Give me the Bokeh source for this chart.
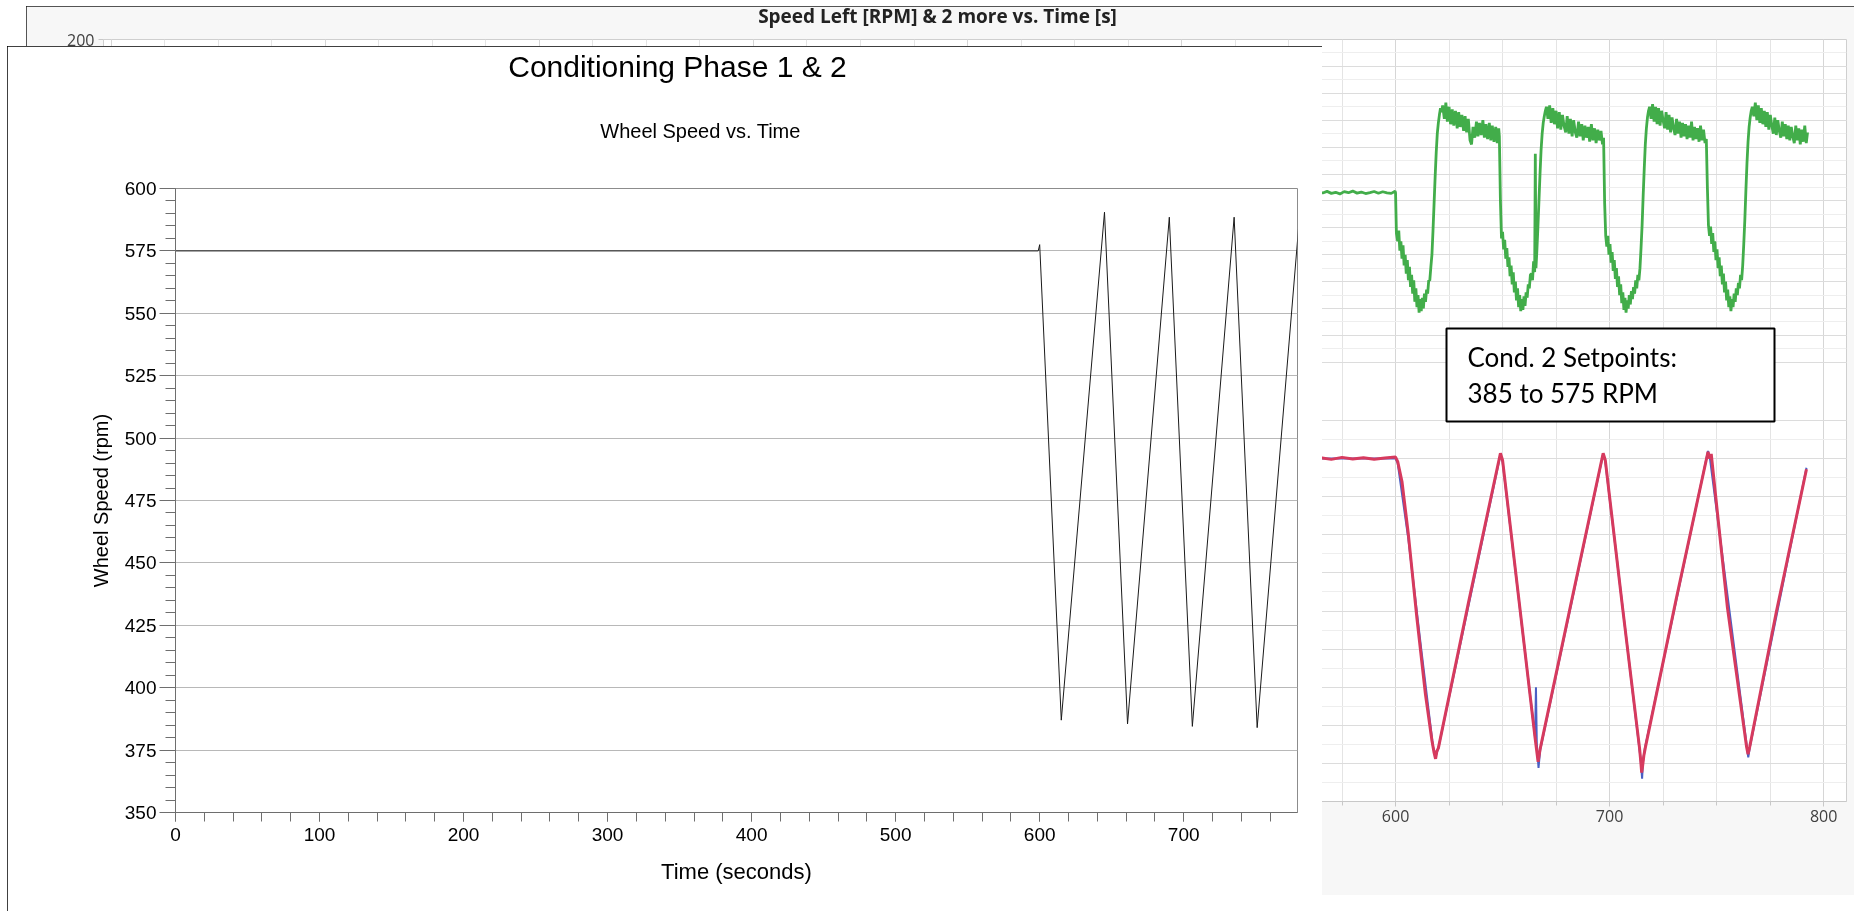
from bokeh.plotting import figure
from bokeh.models import (Range1d, LinearAxis, SingleIntervalTicker, FixedTicker,
                          Grid, Label, BoxAnnotation)
from bokeh.embed import file_html
from bokeh.resources import INLINE

# ---------------- foreground chart data ----------------
fg_title = "Conditioning Phase 1 & 2"
fg_subtitle = "Wheel Speed vs. Time"
fg_xlabel = "Time (seconds)"
fg_ylabel = "Wheel Speed (rpm)"
fg_time = [0, 599, 600, 615, 645, 661, 690, 706, 735, 751, 780]
fg_speed = [575, 575, 577.5, 387, 590.5, 385.5, 588.5, 384.5, 588.5, 384, 586]

# ---------------- background chart data ----------------
bg_title = "Speed Left [RPM] & 2 more vs. Time [s]"
bg_xticks = [600, 700, 800]
bg_xminor = [550, 575, 625, 650, 675, 725, 750, 775]
bg_yticks = [200]
box_lines = ["Cond. 2 Setpoints:", "385 to 575 RPM"]

bg_red_t = [0, 565, 570, 575, 580, 585, 590, 595, 600, 601, 603, 606, 610, 614, 617, 618, 618.7,
            619.3, 620, 634, 649, 650, 658, 665, 666.6, 667.5, 682, 697, 698, 706, 714, 714.6,
            715, 715.4, 716, 716.8, 731, 746, 746.8, 747.5, 755, 764, 764.7, 765.5, 778, 792]
bg_red_v = [575, 575.5, 574.5, 575.8, 574.8, 575.6, 574.6, 575.4, 576, 573, 560, 525, 470, 420, 390,
            382, 378, 383, 385, 480, 578.5, 574, 478, 394, 376, 384, 480, 578.5, 574, 478, 385, 376,
            369, 373, 380, 386, 482, 579.5, 575, 578, 478, 386, 381, 386, 475, 568]

bg_blue_t = [0, 600, 601, 606, 612, 617.5, 618.8, 620, 649, 650, 665.2, 665.6, 666, 666.8, 667.6,
             697, 698, 714.5, 715.2, 715.6, 716.5, 746, 747, 764.8, 765.6, 792]
bg_blue_v = [575, 575, 572, 522, 450, 386, 380, 385, 577.5, 573, 392, 425, 388, 372, 384,
             578, 573, 378, 365, 376, 385, 580, 574, 379, 386, 569]

g_t0 = [0, 560, 562, 564, 566, 568, 570, 572, 574, 576, 578, 580, 582, 584, 586, 588, 590, 592,
        594, 596, 598, 599.8]
g_v0 = [86, 86.3, 85.4, 86.8, 85.9, 87.1, 85.6, 86.4, 85.2, 86.9, 86.1, 87.3, 85.8, 86.6, 85.5,
        86.2, 87.0, 85.7, 86.8, 86.0, 85.6, 87.2]
g_t1 = [600.0, 600.4, 601.0, 601.5, 602.0, 602.5, 603.0, 603.5, 604.0, 604.5, 605.0, 605.5, 606.0,
        606.5, 607.0, 607.5, 608.0, 608.5, 609.0, 609.5, 610.0, 610.5, 611.0, 611.5, 612.0, 612.5,
        613.0, 613.5, 614.0, 614.5, 615.0, 615.5, 616.0, 616.5, 617.0, 617.5, 618.0, 618.5, 619.0,
        619.5, 620.0, 620.5, 621.0, 621.5]
g_v1 = [86, 56, 50, 58, 43, 50, 37, 47, 32, 40, 26, 36, 21, 31, 16, 25, 11, 21, 5, 15, 1, 10, -3, 7,
        -2, 8, 0, 11, 5, 14, 11, 21, 21, 31, 40, 58, 78, 98, 116, 130, 138, 144, 149, 146]
g_t2 = [622.0, 622.8, 623.5, 624.2, 625.0, 625.7, 626.5, 627.2, 628.0, 628.8, 629.5, 630.2, 631.0,
        631.8, 632.5, 633.2, 634.0, 634.8, 635.5, 636.2, 637.0, 637.8, 638.5, 639.2, 640.0, 640.8,
        641.5, 642.2, 643.0, 643.8, 644.5, 645.2, 646.0, 646.8, 647.5, 648.2]
g_v2 = [151, 141, 153, 139, 150, 137, 148, 136, 147, 134, 146, 135, 144, 132, 143, 131, 141, 125,
        122, 135, 127, 139, 128, 138, 129, 140, 127, 137, 126, 138, 125, 136, 124, 135, 123, 134]
g_t3 = [648.5, 649.0, 649.5, 650.0, 650.5, 651.0, 651.5, 652.0, 652.5, 653.0, 653.5, 654.0, 654.5,
        655.0, 655.5, 656.0, 656.5, 657.0, 657.5, 658.0, 658.5, 659.0, 659.5, 660.0, 660.5, 661.0,
        661.5, 662.0, 662.5, 663.0, 663.5, 664.0, 664.5, 665.0, 665.3, 665.6, 666.0, 666.5, 667.0,
        667.5, 668.0, 668.5, 669.0, 669.5, 670.0, 670.5]
g_v3 = [128, 80, 52, 57, 44, 51, 37, 45, 31, 38, 24, 32, 18, 27, 12, 20, 6, 15, 1, 10, -2, 7, -1, 9,
        2, 12, 8, 18, 15, 25, 26, 21, 35, 27, 115, 30, 42, 60, 80, 100, 118, 130, 138, 143, 147, 150]
g_t4 = [671.2, 672.0, 672.7, 673.5, 674.2, 675.0, 675.7, 676.5, 677.2, 678.0, 678.7, 679.5, 680.2,
        681.0, 681.7, 682.5, 683.2, 684.0, 684.7, 685.5, 686.2, 687.0, 687.7, 688.5, 689.2, 690.0,
        690.7, 691.5, 692.2, 693.0, 693.7, 694.5, 695.2, 696.0, 696.7]
g_v4 = [141, 151, 138, 149, 137, 147, 134, 146, 133, 144, 136, 131, 143, 130, 141, 128, 140, 131,
        127, 139, 128, 137, 125, 136, 127, 135, 124, 137, 125, 134, 123, 133, 125, 132, 122]
g_t5 = [697.2, 697.7, 698.2, 698.7, 699.2, 699.7, 700.2, 700.7, 701.2, 701.7, 702.2, 702.7, 703.2,
        703.7, 704.2, 704.7, 705.2, 705.7, 706.2, 706.7, 707.2, 707.7, 708.2, 708.7, 709.2, 709.7,
        710.2, 710.7, 711.2, 711.7, 712.2, 712.7, 713.2, 713.7, 714.2, 714.7, 715.2, 715.7, 716.2,
        716.7, 717.2, 717.7, 718.2, 718.7]
g_v5 = [127, 78, 54, 46, 54, 40, 48, 34, 42, 28, 36, 22, 30, 16, 24, 10, 18, 4, 12, -1, 8, -3, 6, 0,
        10, 3, 13, 7, 16, 11, 21, 15, 25, 21, 30, 45, 62, 84, 104, 122, 134, 142, 147, 150]
g_t6 = [719.4, 720.1, 720.8, 721.5, 722.2, 722.9, 723.6, 724.3, 725.0, 725.7, 726.4, 727.1, 727.8,
        728.5, 729.2, 729.9, 730.6, 731.3, 732.0, 732.7, 733.4, 734.1, 734.8, 735.5, 736.2, 736.9,
        737.6, 738.3, 739.0, 739.7, 740.4, 741.1, 741.8, 742.5, 743.2, 743.9, 744.6]
g_v6 = [141, 152, 139, 150, 137, 149, 136, 147, 140, 134, 146, 133, 144, 131, 142, 134, 129, 141,
        130, 139, 127, 138, 128, 137, 126, 136, 127, 139, 125, 135, 126, 134, 124, 136, 125, 133, 123]
g_t7 = [745.2, 745.7, 746.2, 746.7, 747.2, 747.7, 748.2, 748.7, 749.2, 749.7, 750.2, 750.7, 751.2,
        751.7, 752.2, 752.7, 753.2, 753.7, 754.2, 754.7, 755.2, 755.7, 756.2, 756.7, 757.2, 757.7,
        758.2, 758.7, 759.2, 759.7, 760.2, 760.7, 761.2, 761.7, 762.2, 762.7, 763.2, 763.7, 764.2,
        764.7, 765.2, 765.7, 766.2, 766.7]
g_v7 = [126, 90, 62, 54, 61, 48, 56, 42, 50, 36, 44, 30, 38, 24, 32, 18, 26, 12, 20, 6, 14, 1, 9,
        -2, 7, 1, 11, 5, 15, 10, 19, 15, 25, 21, 32, 48, 66, 88, 108, 124, 135, 142, 147, 150]
g_t8 = [767.4, 768.1, 768.8, 769.5, 770.2, 770.9, 771.6, 772.3, 773.0, 773.7, 774.4, 775.1, 775.8,
        776.5, 777.2, 777.9, 778.6, 779.3, 780.0, 780.7, 781.4, 782.1, 782.8, 783.5, 784.2, 784.9,
        785.6, 786.3, 787.0, 787.7, 788.4, 789.1, 789.8, 790.5, 791.2, 791.9, 792.5]
g_v8 = [143, 153, 140, 151, 138, 149, 137, 147, 135, 146, 133, 144, 136, 130, 142, 129, 140, 132,
        127, 139, 128, 137, 126, 136, 125, 135, 128, 123, 136, 125, 134, 122, 133, 124, 136, 123, 131]

bg_green_t = g_t0 + g_t1 + g_t2 + g_t3 + g_t4 + g_t5 + g_t6 + g_t7 + g_t8
bg_green_v = g_v0 + g_v1 + g_v2 + g_v3 + g_v4 + g_v5 + g_v6 + g_v7 + g_v8


def fixed_at(left, top, extra=None):
    st = {"position": "fixed", "left": f"{left}px", "top": f"{top}px"}
    if extra:
        st.update(extra)
    return st


def overlay(w, h):
    f = figure(width=w, height=h, x_range=Range1d(0, w), y_range=Range1d(0, h),
               output_backend="svg", toolbar_location=None, x_axis_type=None, y_axis_type=None,
               min_border_left=0, min_border_right=0, min_border_top=0, min_border_bottom=0,
               background_fill_color=None, border_fill_color=None, outline_line_color=None)
    return f


# ---------------- background figure ----------------
bg = figure(width=1828, height=889, x_range=Range1d(-3.7, 810.7), y_range=Range1d(-366.5, 200),
            output_backend="svg", toolbar_location=None, x_axis_type=None, y_axis_type=None,
            min_border_left=77, min_border_right=8, min_border_top=33, min_border_bottom=94,
            background_fill_color="white", border_fill_color="#f7f7f7",
            outline_line_color="#cfcfcf")
bg.extra_y_ranges = {"rpm": Range1d(350, 850)}

bg.add_layout(Grid(dimension=0, ticker=SingleIntervalTicker(interval=100, num_minor_ticks=4),
                   grid_line_color="#d6d6d6", minor_grid_line_color="#e4e4e4"))
bg.add_layout(Grid(dimension=1, ticker=SingleIntervalTicker(interval=20, num_minor_ticks=2),
                   bounds=(-40, 200), grid_line_color="#dcdcdc", minor_grid_line_color="#eeeeee"))
bg.add_layout(Grid(dimension=1, y_range_name="rpm",
                   ticker=SingleIntervalTicker(interval=25, num_minor_ticks=2),
                   bounds=(350, 600), grid_line_color="#dcdcdc", minor_grid_line_color="#eeeeee"))

bx = LinearAxis(ticker=FixedTicker(ticks=bg_xticks, minor_ticks=bg_xminor),
                axis_line_color="#c8c8c8", major_tick_line_color="#c8c8c8",
                minor_tick_line_color="#c8c8c8", major_tick_in=0, major_tick_out=5,
                minor_tick_in=0, minor_tick_out=4, major_label_standoff=3,
                major_label_text_font="Open Sans", major_label_text_font_size="16px",
                major_label_text_color="#404040")
bg.add_layout(bx, "below")
by = LinearAxis(ticker=FixedTicker(ticks=bg_yticks), axis_line_color=None,
                major_tick_line_color="#c8c8c8", major_tick_in=0, major_tick_out=5,
                minor_tick_line_color=None, major_label_standoff=4,
                major_label_text_font="Open Sans", major_label_text_font_size="16px",
                major_label_text_color="#404040")
bg.add_layout(by, "left")

bg.line(bg_blue_t, bg_blue_v, y_range_name="rpm", line_color="#4a5fc4", line_width=2)
bg.line(bg_red_t, bg_red_v, y_range_name="rpm", line_color="#d63a5e", line_width=3)
bg.line(bg_green_t, bg_green_v, line_color="#42ad4a", line_width=2.8)

bg.add_layout(BoxAnnotation(left=1343, right=1671, bottom=380, top=473,
                            left_units="screen", right_units="screen",
                            bottom_units="screen", top_units="screen",
                            fill_color="white", fill_alpha=1.0,
                            line_color="black", line_alpha=1.0, line_width=2))
bg.add_layout(Label(x=1364, y=445, x_units="screen", y_units="screen", text=box_lines[0],
                    text_align="left", text_baseline="middle", text_font="Lato",
                    text_font_size="26px", text_color="black"))
bg.add_layout(Label(x=1364, y=409, x_units="screen", y_units="screen", text=box_lines[1],
                    text_align="left", text_baseline="middle", text_font="Lato",
                    text_font_size="26px", text_color="black"))
bg.styles = fixed_at(26, 6, {"outline": "2px solid #1e1e1e", "outline-offset": "-2px"})

bg_head = overlay(1824, 40)
bg_head.add_layout(Label(x=909, y=25, x_units="screen", y_units="screen", text=bg_title,
                         text_align="center", text_baseline="middle", text_font="Open Sans",
                         text_font_style="bold", text_font_size="19px", text_color="#222222"))
bg_head.styles = fixed_at(28, 0)

# ---------------- foreground figure ----------------
fg = figure(width=1315, height=870, x_range=Range1d(0, 779), y_range=Range1d(350, 600),
            output_backend="svg", toolbar_location=None, x_axis_type=None, y_axis_type=None,
            min_border_left=168, min_border_right=25, min_border_top=142, min_border_bottom=104,
            background_fill_color="white", border_fill_color="white",
            outline_line_color="#8c8c8c")

fx = LinearAxis(ticker=SingleIntervalTicker(interval=100, num_minor_ticks=5),
                axis_label=fg_xlabel, axis_line_color="#6e6e6e",
                major_tick_line_color="#6e6e6e", minor_tick_line_color="#6e6e6e",
                major_tick_in=0, major_tick_out=9, minor_tick_in=0, minor_tick_out=9,
                major_label_standoff=6, axis_label_standoff=15,
                major_label_text_font="Liberation Sans", major_label_text_font_size="19px",
                major_label_text_color="black",
                axis_label_text_font="Liberation Sans", axis_label_text_font_size="22px",
                axis_label_text_font_style="normal", axis_label_text_color="black")
fg.add_layout(fx, "below")
fy = LinearAxis(ticker=SingleIntervalTicker(interval=25, num_minor_ticks=5),
                axis_label=fg_ylabel, axis_line_color="#6e6e6e",
                major_tick_line_color="#6e6e6e", minor_tick_line_color="#6e6e6e",
                major_tick_in=0, major_tick_out=16, minor_tick_in=0, minor_tick_out=10,
                major_label_standoff=3, axis_label_standoff=10,
                major_label_text_font="Liberation Sans", major_label_text_font_size="19px",
                major_label_text_color="black",
                axis_label_text_font="Liberation Sans", axis_label_text_font_size="20px",
                axis_label_text_font_style="normal", axis_label_text_color="black")
fg.add_layout(fy, "left")
fg.add_layout(Grid(dimension=1, ticker=SingleIntervalTicker(interval=25),
                   grid_line_color="#b8b8b8", grid_line_width=1))

fg.line(fg_time, fg_speed, line_color="#1a1a1a", line_width=1)
fg.styles = fixed_at(7, 46, {"outline": "3px solid #000000", "outline-offset": "-3px"})

fg_head = overlay(1309, 137)
fg_head.add_layout(Label(x=667, y=120, x_units="screen", y_units="screen", text=fg_title,
                         text_align="center", text_baseline="middle", text_font="Liberation Sans",
                         text_font_size="30px", text_color="black"))
fg_head.add_layout(Label(x=690, y=56, x_units="screen", y_units="screen", text=fg_subtitle,
                         text_align="center", text_baseline="middle", text_font="Liberation Sans",
                         text_font_size="20px", text_color="black"))
fg_head.styles = fixed_at(10, 49)

open("out.html", "w").write(file_html([bg, bg_head, fg, fg_head], INLINE))
